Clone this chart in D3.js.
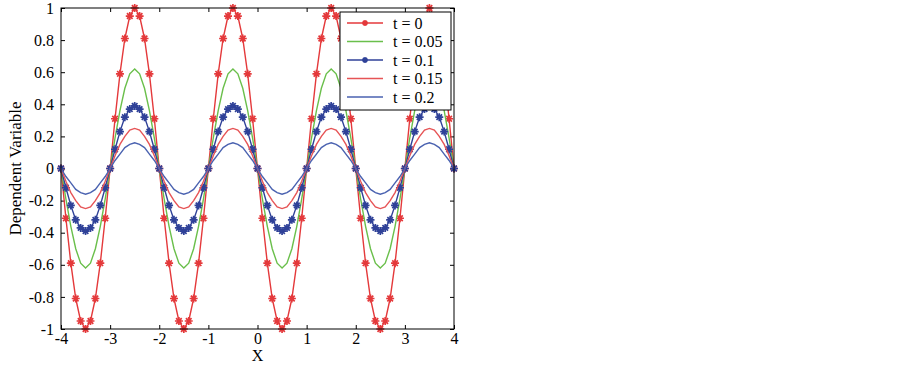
<!DOCTYPE html>
<html>
<head>
<meta charset="utf-8">
<script src="https://cdn.jsdelivr.net/npm/d3@7"></script>
<style>
  body { margin: 0; background: #fff; }
  svg { display: block; font-family: 'Liberation Serif', 'Times New Roman', serif; }
</style>
</head>
<body>
<div id="chart"></div>
<script>
// x grid of the plotted samples
const xValues = [
  -4, -3.9, -3.8, -3.7, -3.6, -3.5, -3.4, -3.3, -3.2, -3.1,
  -3, -2.9, -2.8, -2.7, -2.6, -2.5, -2.4, -2.3, -2.2, -2.1,
  -2, -1.9, -1.8, -1.7, -1.6, -1.5, -1.4, -1.3, -1.2, -1.1,
  -1, -0.9, -0.8, -0.7, -0.6, -0.5, -0.4, -0.3, -0.2, -0.1,
  0, 0.1, 0.2, 0.3, 0.4, 0.5, 0.6, 0.7, 0.8, 0.9,
  1, 1.1, 1.2, 1.3, 1.4, 1.5, 1.6, 1.7, 1.8, 1.9,
  2, 2.1, 2.2, 2.3, 2.4, 2.5, 2.6, 2.7, 2.8, 2.9,
  3, 3.1, 3.2, 3.3, 3.4, 3.5, 3.6, 3.7, 3.8, 3.9,
  4
];

const yT0 = [
  0, -0.31, -0.59, -0.81, -0.95, -1, -0.95, -0.81, -0.59, -0.31, 0, 0.31, 0.59, 0.81, 0.95, 1, 0.95, 0.81, 0.59, 0.31,
  0, -0.31, -0.59, -0.81, -0.95, -1, -0.95, -0.81, -0.59, -0.31, 0, 0.31, 0.59, 0.81, 0.95, 1, 0.95, 0.81, 0.59, 0.31,
  0, -0.31, -0.59, -0.81, -0.95, -1, -0.95, -0.81, -0.59, -0.31, 0, 0.31, 0.59, 0.81, 0.95, 1, 0.95, 0.81, 0.59, 0.31,
  0, -0.31, -0.59, -0.81, -0.95, -1, -0.95, -0.81, -0.59, -0.31, 0, 0.31, 0.59, 0.81, 0.95, 1, 0.95, 0.81, 0.59, 0.31,
  0
];

const yT005 = [
  0, -0.19, -0.36, -0.5, -0.59, -0.62, -0.59, -0.5, -0.36, -0.19, 0, 0.19, 0.36, 0.5, 0.59, 0.62, 0.59, 0.5, 0.36, 0.19,
  0, -0.19, -0.36, -0.5, -0.59, -0.62, -0.59, -0.5, -0.36, -0.19, 0, 0.19, 0.36, 0.5, 0.59, 0.62, 0.59, 0.5, 0.36, 0.19,
  0, -0.19, -0.36, -0.5, -0.59, -0.62, -0.59, -0.5, -0.36, -0.19, 0, 0.19, 0.36, 0.5, 0.59, 0.62, 0.59, 0.5, 0.36, 0.19,
  0, -0.19, -0.36, -0.5, -0.59, -0.62, -0.59, -0.5, -0.36, -0.19, 0, 0.19, 0.36, 0.5, 0.59, 0.62, 0.59, 0.5, 0.36, 0.19,
  0
];

const yT01 = [
  0, -0.12, -0.23, -0.32, -0.37, -0.39, -0.37, -0.32, -0.23, -0.12, 0, 0.12, 0.23, 0.32, 0.37, 0.39, 0.37, 0.32, 0.23, 0.12,
  0, -0.12, -0.23, -0.32, -0.37, -0.39, -0.37, -0.32, -0.23, -0.12, 0, 0.12, 0.23, 0.32, 0.37, 0.39, 0.37, 0.32, 0.23, 0.12,
  0, -0.12, -0.23, -0.32, -0.37, -0.39, -0.37, -0.32, -0.23, -0.12, 0, 0.12, 0.23, 0.32, 0.37, 0.39, 0.37, 0.32, 0.23, 0.12,
  0, -0.12, -0.23, -0.32, -0.37, -0.39, -0.37, -0.32, -0.23, -0.12, 0, 0.12, 0.23, 0.32, 0.37, 0.39, 0.37, 0.32, 0.23, 0.12,
  0
];

const yT015 = [
  0, -0.08, -0.15, -0.2, -0.24, -0.25, -0.24, -0.2, -0.15, -0.08, 0, 0.08, 0.15, 0.2, 0.24, 0.25, 0.24, 0.2, 0.15, 0.08,
  0, -0.08, -0.15, -0.2, -0.24, -0.25, -0.24, -0.2, -0.15, -0.08, 0, 0.08, 0.15, 0.2, 0.24, 0.25, 0.24, 0.2, 0.15, 0.08,
  0, -0.08, -0.15, -0.2, -0.24, -0.25, -0.24, -0.2, -0.15, -0.08, 0, 0.08, 0.15, 0.2, 0.24, 0.25, 0.24, 0.2, 0.15, 0.08,
  0, -0.08, -0.15, -0.2, -0.24, -0.25, -0.24, -0.2, -0.15, -0.08, 0, 0.08, 0.15, 0.2, 0.24, 0.25, 0.24, 0.2, 0.15, 0.08,
  0
];

const yT02 = [
  0, -0.05, -0.09, -0.13, -0.15, -0.16, -0.15, -0.13, -0.09, -0.05, 0, 0.05, 0.09, 0.13, 0.15, 0.16, 0.15, 0.13, 0.09, 0.05,
  0, -0.05, -0.09, -0.13, -0.15, -0.16, -0.15, -0.13, -0.09, -0.05, 0, 0.05, 0.09, 0.13, 0.15, 0.16, 0.15, 0.13, 0.09, 0.05,
  0, -0.05, -0.09, -0.13, -0.15, -0.16, -0.15, -0.13, -0.09, -0.05, 0, 0.05, 0.09, 0.13, 0.15, 0.16, 0.15, 0.13, 0.09, 0.05,
  0, -0.05, -0.09, -0.13, -0.15, -0.16, -0.15, -0.13, -0.09, -0.05, 0, 0.05, 0.09, 0.13, 0.15, 0.16, 0.15, 0.13, 0.09, 0.05,
  0
];

const seriesLabels = ['t = 0', 't = 0.05', 't = 0.1', 't = 0.15', 't = 0.2'];
const seriesValues = [yT0, yT005, yT01, yT015, yT02];
const seriesColors = ['#e4393b', '#6abf4b', '#2f4198', '#e65456', '#4a62b0'];
const seriesMarkers = [true, false, true, false, false];

const xTicks = [-4, -3, -2, -1, 0, 1, 2, 3, 4];
const yTicks = [-1, -0.8, -0.6, -0.4, -0.2, 0, 0.2, 0.4, 0.6, 0.8, 1];

const width = 902, height = 365;
const margin = { top: 8, right: 448, bottom: 36, left: 61 };
const innerW = width - margin.left - margin.right;
const innerH = height - margin.top - margin.bottom;
const serif = "'Liberation Serif', 'Times New Roman', serif";

const svg = d3.select('#chart').append('svg')
  .attr('width', width)
  .attr('height', height);

const g = svg.append('g')
  .attr('transform', `translate(${margin.left},${margin.top})`);

const x = d3.scaleLinear().domain([-4, 4]).range([0, innerW]);
const y = d3.scaleLinear().domain([-1, 1]).range([innerH, 0]);

const fmt = d => String(d);

// axes with inward ticks on all four sides
const tickLen = 4;
const tidy = a => {
  a.attr('font-family', serif).attr('font-size', 16);
  a.select('.domain').remove();
};
g.append('g')
  .attr('transform', `translate(0,${innerH})`)
  .call(d3.axisBottom(x).tickValues(xTicks).tickFormat(fmt).tickSizeInner(-tickLen).tickSizeOuter(0).tickPadding(4))
  .call(tidy);
g.append('g')
  .call(d3.axisTop(x).tickValues(xTicks).tickFormat('').tickSizeInner(-tickLen).tickSizeOuter(0))
  .call(tidy);
g.append('g')
  .call(d3.axisLeft(y).tickValues(yTicks).tickFormat(fmt).tickSizeInner(-tickLen).tickSizeOuter(0).tickPadding(7))
  .call(tidy);
g.append('g')
  .attr('transform', `translate(${innerW},0)`)
  .call(d3.axisRight(y).tickValues(yTicks).tickFormat('').tickSizeInner(-tickLen).tickSizeOuter(0))
  .call(tidy);

g.selectAll('.tick text').attr('fill', '#000');
g.selectAll('.tick line').attr('stroke', '#000');

// curves
const line = d3.line()
  .x((d, i) => x(xValues[i]))
  .y(d => y(d));

const star = r => `M${-r},0L${r},0M0,${-r}L0,${r}` +
  `M${-r * 0.7},${-r * 0.7}L${r * 0.7},${r * 0.7}M${-r * 0.7},${r * 0.7}L${r * 0.7},${-r * 0.7}`;

seriesValues.forEach((vals, s) => {
  g.append('path')
    .datum(vals)
    .attr('fill', 'none')
    .attr('stroke', seriesColors[s])
    .attr('stroke-width', 1.4)
    .attr('d', line);

  if (seriesMarkers[s]) {
    g.append('g').selectAll('path')
      .data(vals)
      .join('path')
      .attr('transform', (d, i) => `translate(${x(xValues[i])},${y(d)})`)
      .attr('d', star(4))
      .attr('stroke', seriesColors[s])
      .attr('stroke-width', 1.7)
      .attr('fill', 'none');
  }
});

// frame
g.append('rect')
  .attr('width', innerW)
  .attr('height', innerH)
  .attr('fill', 'none')
  .attr('stroke', '#000')
  .attr('stroke-width', 1);

// legend
const legend = g.append('g')
  .attr('transform', `translate(${340 - margin.left},${12 - margin.top})`);

legend.append('rect')
  .attr('width', 111)
  .attr('height', 98)
  .attr('fill', '#fff')
  .attr('stroke', '#000')
  .attr('stroke-width', 1);

seriesLabels.forEach((lab, i) => {
  const row = legend.append('g')
    .attr('transform', `translate(0,${11 + i * 18.5})`);
  row.append('line')
    .attr('x1', 7).attr('x2', 43)
    .attr('stroke', seriesColors[i])
    .attr('stroke-width', 1.4);
  if (seriesMarkers[i]) {
    row.append('path')
      .attr('transform', 'translate(25,0)')
      .attr('d', star(3))
      .attr('stroke', seriesColors[i])
      .attr('stroke-width', 1.6);
  }
  row.append('text')
    .attr('x', 53)
    .attr('y', 5.5)
    .attr('font-family', serif)
    .style('font-size', '16px')
    .text(lab);
});

// axis titles
svg.append('text')
  .attr('x', margin.left + innerW / 2)
  .attr('y', 361)
  .attr('text-anchor', 'middle')
  .attr('font-family', serif)
  .style('font-size', '16px')
  .text('X');

svg.append('text')
  .attr('transform', `translate(21,${margin.top + innerH / 2}) rotate(-90)`)
  .attr('text-anchor', 'middle')
  .attr('font-family', serif)
  .style('font-size', '17px')
  .text('Dependent Variable');
</script>
</body>
</html>
